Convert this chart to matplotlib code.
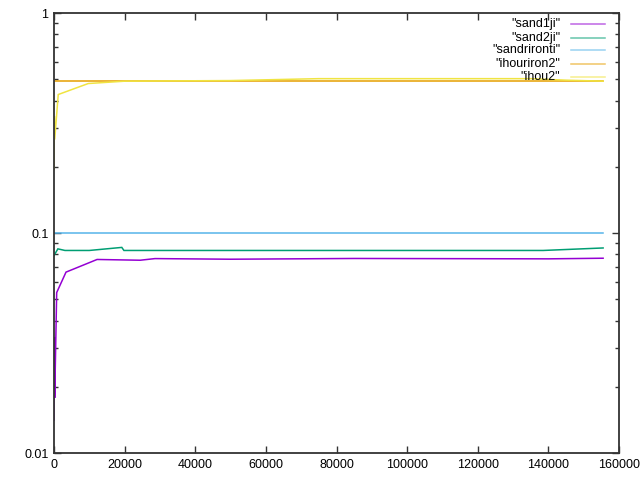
import matplotlib
matplotlib.use('Agg')
import matplotlib.pyplot as plt
from matplotlib.ticker import FixedLocator, LogLocator, NullFormatter, FuncFormatter

plt.rcParams['font.family'] = ['Liberation Sans', 'DejaVu Sans']

labels = ['"sand1ji"', '"sand2ji"', '"sandrironti"', '"ihouriron2"', '"ihou2"']
colors = ['#9400d3', '#009e73', '#56b4e9', '#e69f00', '#f0e442']

x1 = [0, 100, 200, 760, 3400, 12200, 24400, 28600, 50000, 85000, 140000, 155500]
y1 = [0.0141, 0.0336, 0.0178, 0.0536, 0.0664, 0.0758, 0.0752, 0.0765, 0.0760, 0.0766, 0.0763, 0.0768]

x2 = [0, 1100, 3100, 10000, 19200, 19800, 80000, 138500, 155500]
y2 = [0.0790, 0.0847, 0.0833, 0.0833, 0.0860, 0.0833, 0.0833, 0.0833, 0.0855]

x3 = [0, 155500]
y3 = [0.1, 0.1]

x4 = [0, 155500]
y4 = [0.49, 0.49]

x5 = [0, 100, 200, 1200, 9700, 20100, 50000, 75000, 135000, 145000, 155500]
y5 = [0.194, 0.34, 0.266, 0.426, 0.478, 0.49, 0.493, 0.503, 0.503, 0.495, 0.49]

xs = [x1, x2, x3, x4, x5]
ys = [y1, y2, y3, y4, y5]

fig = plt.figure(figsize=(6.4, 4.8), dpi=100)
ax = fig.add_axes([54 / 640, 27 / 480, 565 / 640, 440 / 480])

for x, y, c in zip(xs, ys, colors):
    ax.plot(x, y, color=c, lw=1.1, solid_joinstyle='miter')

ax.set_yscale('log')
ax.set_xlim(0, 160000)
ax.set_ylim(0.01, 1)
ax.xaxis.set_major_locator(FixedLocator(range(0, 160001, 20000)))
ax.xaxis.set_major_formatter(FuncFormatter(lambda v, p: '%d' % v))
ax.yaxis.set_major_locator(FixedLocator([0.01, 0.1, 1]))
ax.yaxis.set_major_formatter(FuncFormatter(lambda v, p: '%g' % v))
ax.yaxis.set_minor_locator(LogLocator(base=10, subs=range(2, 10)))
ax.yaxis.set_minor_formatter(NullFormatter())

for s in ax.spines.values():
    s.set_color('#333333')
    s.set_linewidth(1.3)
ax.tick_params(which='both', direction='in', top=True, right=True, colors='#333333',
               labelcolor='black', labelsize=9, width=1)
ax.tick_params(which='major', length=5, pad=4)
ax.tick_params(which='minor', length=3)

# gnuplot-style key: right-aligned text with sample line to the right
rows = [0.974, 0.9443, 0.915, 0.8852, 0.855]
for lab, c, yy in zip(labels, colors, rows):
    ax.text(0.8956, yy, lab, transform=ax.transAxes, ha='right', va='center', fontsize=9)
    ax.plot([0.915, 0.975], [yy, yy], transform=ax.transAxes, color=c, lw=1.1, alpha=0.6)

fig.savefig('out.png', dpi=100)
